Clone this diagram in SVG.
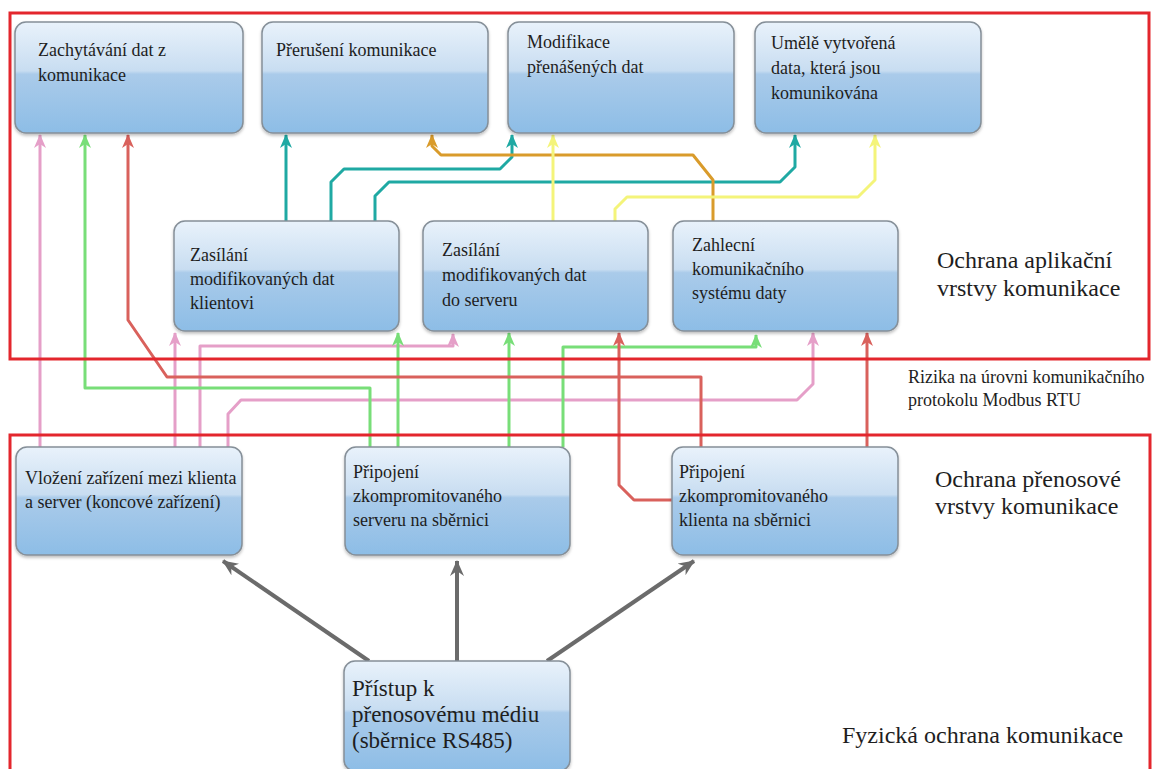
<svg xmlns="http://www.w3.org/2000/svg" width="1163" height="769" viewBox="0 0 1163 769">
<defs>
<linearGradient id="boxg" x1="0" y1="0" x2="0" y2="1">
<stop offset="0" stop-color="#e9f2fb"/>
<stop offset="0.44" stop-color="#c8ddf1"/>
<stop offset="0.47" stop-color="#aacbea"/>
<stop offset="1" stop-color="#8dbde6"/>
</linearGradient>
<filter id="sh" x="-5%" y="-5%" width="110%" height="120%">
<feDropShadow dx="0" dy="2" stdDeviation="1.5" flood-color="#000" flood-opacity="0.25"/>
</filter>
<marker id="aPink" viewBox="0 0 14 12" markerWidth="14" markerHeight="12" refX="13" refY="6" orient="auto" markerUnits="userSpaceOnUse"><path d="M0,0 L14,6 L0,12 L4,6 z" fill="#e59fc8"/></marker>
<marker id="aGreen" viewBox="0 0 14 12" markerWidth="14" markerHeight="12" refX="13" refY="6" orient="auto" markerUnits="userSpaceOnUse"><path d="M0,0 L14,6 L0,12 L4,6 z" fill="#78de78"/></marker>
<marker id="aRed" viewBox="0 0 14 12" markerWidth="14" markerHeight="12" refX="13" refY="6" orient="auto" markerUnits="userSpaceOnUse"><path d="M0,0 L14,6 L0,12 L4,6 z" fill="#d9615c"/></marker>
<marker id="aTeal" viewBox="0 0 14 12" markerWidth="14" markerHeight="12" refX="13" refY="6" orient="auto" markerUnits="userSpaceOnUse"><path d="M0,0 L14,6 L0,12 L4,6 z" fill="#1fa9a3"/></marker>
<marker id="aOrange" viewBox="0 0 14 12" markerWidth="14" markerHeight="12" refX="13" refY="6" orient="auto" markerUnits="userSpaceOnUse"><path d="M0,0 L14,6 L0,12 L4,6 z" fill="#d99b2b"/></marker>
<marker id="aYellow" viewBox="0 0 14 12" markerWidth="14" markerHeight="12" refX="13" refY="6" orient="auto" markerUnits="userSpaceOnUse"><path d="M0,0 L14,6 L0,12 L4,6 z" fill="#f4f47a"/></marker>
<marker id="aGray" viewBox="0 0 16 14" markerWidth="16" markerHeight="14" refX="15" refY="7" orient="auto" markerUnits="userSpaceOnUse"><path d="M0,0 L16,7 L0,14 L5,7 z" fill="#6b6b6b"/></marker>
</defs>
<style>
.box{fill:url(#boxg);stroke:#858f98;stroke-width:1.5;filter:url(#sh)}
.t{font-size:18px;fill:#1e1e1e}
.big{font-size:23px}
.lbl{font-size:24px}
.sm{font-size:18px}
.frame{fill:none;stroke:#e3262d;stroke-width:3}
.c{fill:none;stroke-width:3;stroke-linejoin:round}
.pink{stroke:#e59fc8;marker-end:url(#aPink)}
.green{stroke:#78de78;marker-end:url(#aGreen)}
.red{stroke:#d9615c;marker-end:url(#aRed)}
.teal{stroke:#1fa9a3;marker-end:url(#aTeal)}
.orange{stroke:#d99b2b;marker-end:url(#aOrange)}
.yellow{stroke:#f4f47a;marker-end:url(#aYellow)}
.gray{stroke:#6b6b6b;stroke-width:4;marker-end:url(#aGray)}
</style>
<rect width="1163" height="769" fill="#ffffff"/>

<g id="connectors">
<path class="c pink" d="M40,447 V135"/>
<path class="c pink" d="M175,447 V333"/>
<path class="c pink" d="M200,447 V346 H453 V334"/>
<path class="c pink" d="M228,447 V414 L241,400 H797 L813,384 V333"/>
<path class="c green" d="M370,447 V388 H85 V135"/>
<path class="c green" d="M398,447 V333"/>
<path class="c green" d="M509,447 V333"/>
<path class="c green" d="M563,447 V347 H756 V335"/>
<path class="c red" d="M701,447 V377 H167 L128,320 V135"/>
<path class="c red" d="M672,500 H634 L619,485 V333"/>
<path class="c red" d="M867,447 V333"/>
<path class="c teal" d="M286,221 V135"/>
<path class="c teal" d="M331,221 V182 L344,169 H500 L512,157 V135"/>
<path class="c teal" d="M375,221 V196 L389,182 H780 L795,167 V135"/>
<path class="c orange" d="M713,221 V180 L693,155 H441 L432,146 V135"/>
<path class="c yellow" d="M553,221 V135"/>
<path class="c yellow" d="M615,221 V209 L627,197 H858 L875,180 V135"/>
<path class="c gray" d="M369,661 L223,561"/>
<path class="c gray" d="M457,661 V561"/>
<path class="c gray" d="M547,661 L694,561"/>
</g>

<g id="frames">
<rect class="frame" x="10" y="13" width="1139" height="346"/>
<path class="frame" d="M10,775 V435 H1150 V775"/>
</g>

<g font-family="'Liberation Serif', 'DejaVu Serif', 'Times New Roman', serif">
<g id="n-zachytavani">
<rect class="box" x="15" y="22" width="228" height="111" rx="11"/>
<text class="t" x="38" y="56">Zachytávání dat z</text>
<text class="t" x="38" y="81">komunikace</text>
</g>
<g id="n-preruseni">
<rect class="box" x="262" y="22" width="226" height="111" rx="11"/>
<text class="t" x="276" y="56">Přerušení komunikace</text>
</g>
<g id="n-modifikace">
<rect class="box" x="508" y="22" width="226" height="111" rx="11"/>
<text class="t" x="527" y="48">Modifikace</text>
<text class="t" x="527" y="73">přenášených dat</text>
</g>
<g id="n-umele">
<rect class="box" x="755" y="22" width="226" height="111" rx="11"/>
<text class="t" x="771" y="49">Umělě vytvořená</text>
<text class="t" x="771" y="74">data, která jsou</text>
<text class="t" x="771" y="99">komunikována</text>
</g>

<g id="n-zasilani-klient">
<rect class="box" x="174" y="221" width="225" height="110" rx="11"/>
<text class="t" x="190" y="261">Zasílání</text>
<text class="t" x="190" y="285">modifikovaných dat</text>
<text class="t" x="190" y="309">klientovi</text>
</g>
<g id="n-zasilani-server">
<rect class="box" x="423" y="221" width="225" height="110" rx="11"/>
<text class="t" x="442" y="256">Zasílání</text>
<text class="t" x="442" y="281">modifikovaných dat</text>
<text class="t" x="442" y="306">do serveru</text>
</g>
<g id="n-zahlceni">
<rect class="box" x="673" y="221" width="225" height="110" rx="11"/>
<text class="t" x="692" y="251">Zahlecní</text>
<text class="t" x="692" y="275">komunikačního</text>
<text class="t" x="692" y="299">systému daty</text>
</g>

<g id="n-vlozeni">
<rect class="box" x="16" y="447" width="226" height="108" rx="11"/>
<text class="t" x="25" y="484">Vložení zařízení mezi klienta</text>
<text class="t" x="25" y="508">a server (koncové zařízení)</text>
</g>
<g id="n-pripojeni-server">
<rect class="box" x="345" y="447" width="225" height="108" rx="11"/>
<text class="t" x="353" y="478">Připojení</text>
<text class="t" x="353" y="502">zkompromitovaného</text>
<text class="t" x="353" y="526">serveru na sběrnici</text>
</g>
<g id="n-pripojeni-klient">
<rect class="box" x="672" y="447" width="226" height="108" rx="11"/>
<text class="t" x="679" y="478">Připojení</text>
<text class="t" x="679" y="502">zkompromitovaného</text>
<text class="t" x="679" y="526">klienta na sběrnici</text>
</g>

<g id="n-pristup">
<rect class="box" x="344" y="661" width="226" height="110" rx="11"/>
<text class="t big" x="352" y="696">Přístup k</text>
<text class="t big" x="352" y="722">přenosovému médiu</text>
<text class="t big" x="352" y="748">(sběrnice RS485)</text>
</g>

<g id="labels">
<text class="t lbl" x="937" y="268">Ochrana aplikační</text>
<text class="t lbl" x="937" y="296">vrstvy komunikace</text>
<text class="t sm" x="908" y="383">Rizika na úrovni komunikačního</text>
<text class="t sm" x="908" y="406">protokolu Modbus RTU</text>
<text class="t lbl" x="935" y="487">Ochrana přenosové</text>
<text class="t lbl" x="935" y="514">vrstvy komunikace</text>
<text class="t lbl" x="842" y="743">Fyzická ochrana komunikace</text>
</g>
</g>
</svg>
